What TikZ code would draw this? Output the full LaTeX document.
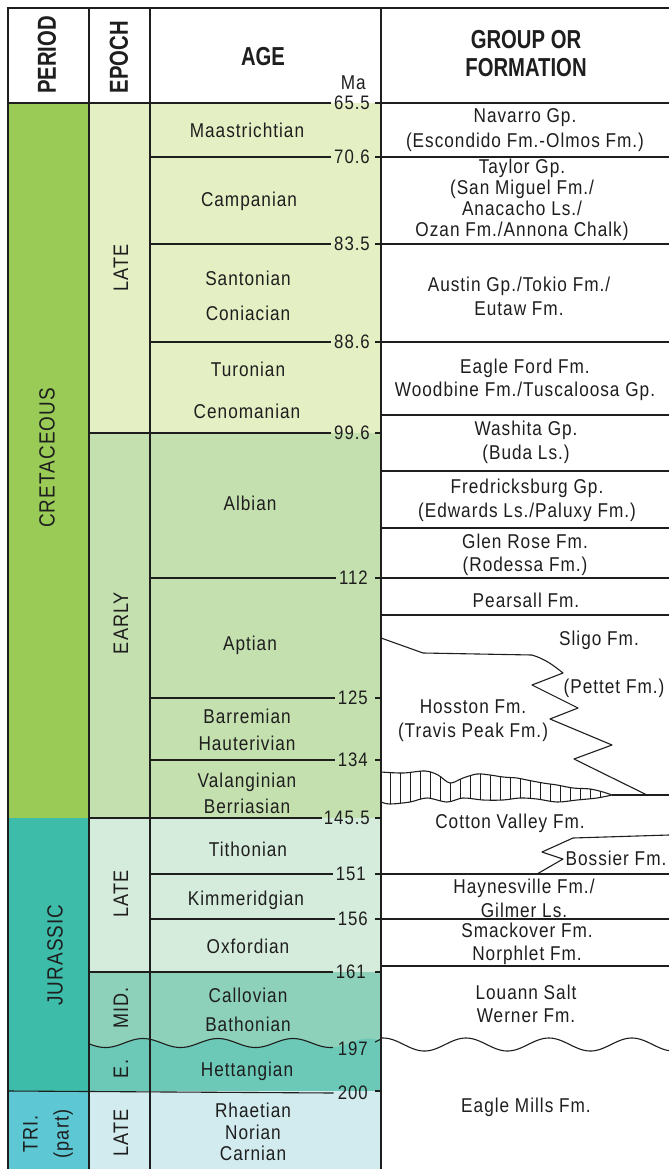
\documentclass[tikz,border=0pt]{standalone}
\usepackage{fontspec}
\setmainfont{Liberation Sans}[FakeStretch=0.86,LetterSpace=5]
\newfontfamily\hdrfont{Liberation Sans}[FakeStretch=0.78]
\definecolor{creP}{HTML}{99CB56}
\definecolor{creL}{HTML}{E5EFC4}
\definecolor{creE}{HTML}{C5E0AF}
\definecolor{jurP}{HTML}{3DBCA9}
\definecolor{jurL}{HTML}{D5EBDB}
\definecolor{jurM}{HTML}{8DD1BA}
\definecolor{jurE}{HTML}{6CC8B7}
\definecolor{triP}{HTML}{5DC7D4}
\definecolor{triL}{HTML}{D2EBEE}
\definecolor{ink}{HTML}{1E1E1E}
\tikzset{
  rule/.style={line width=1.1pt, draw=ink},
  txt/.style={inner sep=0pt, align=center, text=ink, font=\fontsize{20}{23.5}\selectfont},
  num/.style={inner sep=0pt, anchor=east, text=ink, font=\fontsize{19.5}{20}\selectfont},
  hdr/.style={inner sep=0pt, align=center, text=ink, font=\hdrfont\bfseries\fontsize{26}{28}\selectfont},
  vlab/.style={txt, rotate=90, font=\fontsize{21}{28}\selectfont},
  plab/.style={txt, rotate=90, font=\fontsize{22}{30}\selectfont},
}
\begin{document}
\begin{tikzpicture}[x=1pt,y=-1pt]
\useasboundingbox (0,0) rectangle (669,1169);
\fill[white] (0,0) rectangle (669,1169);
% ---------- fills ----------
\fill[creP] (8,103) rectangle (89,818);
\fill[jurP] (8,818) rectangle (89,1091);
\fill[triP] (8,1091) rectangle (89,1169);
\fill[creL] (89,103) rectangle (381,433);
\fill[creE] (89,433) rectangle (381,818);
\fill[jurL] (89,818) rectangle (381,972);
\fill[jurE] (89,972) rectangle (381,1091);
\fill[jurM] (89,972) -- (381,972) -- plot[domain=381:89, samples=120] (\x, {1043 - 4.5*cos((\x-143)*4.8)}) -- cycle;
\fill[triL] (89,1091) rectangle (381,1169);
% ---------- header ----------
\node[hdr, rotate=90] (hperiod) at (47,55) {PERIOD};
\node[hdr, rotate=90] (hepoch) at (119,57) {EPOCH};
\node[hdr] (hage) at (263,57) {AGE};
\node[hdr, font=\hdrfont\bfseries\fontsize{26}{28}\selectfont] (hform) at (526,54) {GROUP OR\\FORMATION};
\node[num, font=\fontsize{20}{20}\selectfont] (ma) at (366,83) {Ma};
% ---------- age numbers ----------
\node[num] (n655) at (370,103) {65.5};
\node[num] (n706) at (370,157) {70.6};
\node[num] (n835) at (370,244) {83.5};
\node[num] (n886) at (370,342) {88.6};
\node[num] (n996) at (370,433) {99.6};
\node[num] (n112) at (368,578) {112};
\node[num] (n125) at (368,698) {125};
\node[num] (n134) at (368,760) {134};
\node[num] (n1455) at (370,818) {145.5};
\node[num] (n151) at (366,874) {151};
\node[num] (n156) at (368,919) {156};
\node[num] (n161) at (366,972) {161};
\node[num] (n197) at (368,1049) {197};
\node[num] (n200) at (368,1093) {200};
% ---------- frame and column rules ----------
\draw[rule] (8,1169) -- (8,8) -- (669,8);
\draw[rule] (89,8) -- (89,1169);
\draw[rule] (150,8) -- (150,1169);
\draw[rule] (381,8) -- (381,1169);
% header bottom / period & epoch boundaries
\draw[rule] (8,103) -- ([xshift=-3pt]n655.west);
\draw[rule] (89,433) -- ([xshift=-3pt]n996.west);
\draw[rule] (89,818) -- ([xshift=-2pt]n1455.west);
\draw[rule] (89,972) -- ([xshift=-3pt]n161.west);
\draw[rule] (8,1091) -- ([xshift=-4pt]n200.west);
% stage boundaries
\foreach \n/\y in {n706/157, n835/244, n886/342, n112/578, n125/698, n134/760, n151/874, n156/919}
  \draw[rule] (150,\y) -- ([xshift=-3pt]\n.west);
% Mid / Early Jurassic unconformity in the age columns
\draw[rule] plot[domain=89:333, samples=120] (\x, {1043 - 4.5*cos((\x-143)*4.8)});
% ticks
\foreach \n/\y in {n655/103, n706/157, n835/244, n886/342, n996/433, n112/578, n125/698, n134/760, n1455/818, n151/874, n156/919, n161/972, n200/1091}
  \draw[rule] (375,\y) -- (381,\y);
\draw[rule] (375,1042) -- (381,1039);
% ---------- formation column rules ----------
\foreach \y in {103,157,244,342,415,471,528,578,615,874,919,966}
  \draw[rule] (381,\y) -- (669,\y);
% Sligo / Pettet / Hosston intertonguing
\draw[rule, line join=round] (381,638) -- (423,653) -- (532,655) .. controls (545,659) and (553,665) .. (563,673) -- (532,685) -- (578,708) -- (550,719) -- (612,745) -- (574,759) -- (647,795);
\draw[rule] (612,795) -- (669,795);
% hatched lens
\begin{scope}
  \clip (381,772) -- plot[smooth, tension=0.55] coordinates {(381,772) (403,773) (425,771) (438,775) (450,783) (463,778) (477,774) (490,775) (503,777) (517,778) (527,780) (543,783) (557,785) (573,788) (590,789) (603,792) (612,795)}
    -- plot[smooth, tension=0.55] coordinates {(612,795) (597,798) (577,800) (557,802) (537,799) (520,798) (503,800) (483,800) (463,798) (447,802) (427,798) (410,802) (390,804) (381,802)} -- cycle;
  \foreach \x in {390,400,...,610}
    \draw[line width=0.9pt, draw=ink] (\x,760) -- (\x,810);
\end{scope}
\draw[rule, line join=round] plot[smooth, tension=0.55] coordinates {(381,772) (403,773) (425,771) (438,775) (450,783) (463,778) (477,774) (490,775) (503,777) (517,778) (527,780) (543,783) (557,785) (573,788) (590,789) (603,792) (612,795)}
    -- plot[smooth, tension=0.55] coordinates {(612,795) (597,798) (577,800) (557,802) (537,799) (520,798) (503,800) (483,800) (463,798) (447,802) (427,798) (410,802) (390,804) (381,802)};
% Bossier tongue
\draw[rule, line join=round] (669,835) -- (573,838) -- (542,852) -- (563,859) -- (537,874);
% unconformity in formation column
\draw[rule] plot[domain=381:669, samples=150] (\x, {1044.5 - 6.5*cos((\x-383)*4.34)});
% ---------- period / epoch labels ----------
\node[plab] (cret) at (47,458) {CRETACEOUS};
\node[plab] (jur) at (55,955) {JURASSIC};
\node[plab, font=\fontsize{21}{31}\selectfont] (tri) at (48,1134) {TRI.\\(part)};
\node[vlab] (ecl) at (121,268) {LATE};
\node[vlab] (ece) at (121,623) {EARLY};
\node[vlab] (ejl) at (121,894) {LATE};
\node[vlab] (ejm) at (121,1008) {MID.};
\node[vlab] (eje) at (121,1069) {E.};
\node[vlab] (etl) at (121,1133) {LATE};
% ---------- age names ----------
\node[txt] (maa) at (247,130) {Maastrichtian};
\node[txt] (cam) at (249,201) {Campanian};
\node[txt] (san) at (248,278) {Santonian};
\node[txt] (con) at (248,313) {Coniacian};
\node[txt] (tur) at (248,369) {Turonian};
\node[txt] (cen) at (247,411) {Cenomanian};
\node[txt] (alb) at (250,503) {Albian};
\node[txt] (apt) at (250,645) {Aptian};
\node[txt] (bar) at (247,716) {Barremian};
\node[txt] (hau) at (247,743) {Hauterivian};
\node[txt] (val) at (247,782) {Valanginian};
\node[txt] (ber) at (247,806) {Berriasian};
\node[txt] (tit) at (248,849) {Tithonian};
\node[txt] (kim) at (246,900) {Kimmeridgian};
\node[txt] (oxf) at (248,946) {Oxfordian};
\node[txt] (cal) at (248,995) {Callovian};
\node[txt] (bat) at (248,1024) {Bathonian};
\node[txt] (het) at (247,1071) {Hettangian};
\node[txt, font=\fontsize{20}{21.5}\selectfont] (rnc) at (253,1132) {Rhaetian\\Norian\\Carnian};
% ---------- formations ----------
\node[txt, font=\fontsize{20}{25}\selectfont] (navarro) at (525,130.5) {Navarro Gp.\\(Escondido Fm.-Olmos Fm.)};
\node[txt, font=\fontsize{20}{21}\selectfont] (taylor) at (522,199.5) {Taylor Gp.\\(San Miguel Fm./\\Anacacho Ls./\\Ozan Fm./Annona Chalk)};
\node[txt, font=\fontsize{20}{24}\selectfont] (austin) at (519,296) {Austin Gp./Tokio Fm./\\Eutaw Fm.};
\node[txt, font=\fontsize{20}{23}\selectfont] (eagleford) at (525,379.5) {Eagle Ford Fm.\\Woodbine Fm./Tuscaloosa Gp.};
\node[txt, font=\fontsize{20}{24}\selectfont] (washita) at (526,442) {Washita Gp.\\(Buda Ls.)};
\node[txt, font=\fontsize{20}{24}\selectfont] (fred) at (527,500) {Fredricksburg Gp.\\(Edwards Ls./Paluxy Fm.)};
\node[txt, font=\fontsize{20}{23}\selectfont] (glenrose) at (525,554.5) {Glen Rose Fm.\\(Rodessa Fm.)};
\node[txt] (pearsall) at (526,600) {Pearsall Fm.};
\node[txt] (sligo) at (599,640) {Sligo Fm.};
\node[txt] (pettet) at (614,688) {(Pettet Fm.)};
\node[txt, font=\fontsize{20}{24}\selectfont] (hosston) at (473,721) {Hosston Fm.\\(Travis Peak Fm.)};
\node[txt] (cotton) at (510,823) {Cotton Valley Fm.};
\node[txt] (bossier) at (616,858) {Bossier Fm.};
\node[txt, font=\fontsize{20}{24}\selectfont] (haynes) at (524,898) {Haynesville Fm./\\Gilmer Ls.};
\node[txt, font=\fontsize{20}{23}\selectfont] (smack) at (527,943.5) {Smackover Fm.\\Norphlet Fm.};
\node[txt, font=\fontsize{20}{23}\selectfont] (louann) at (526,1003.5) {Louann Salt\\Werner Fm.};
\node[txt] (eaglemills) at (526,1107) {Eagle Mills Fm.};
\end{tikzpicture}
\end{document}
